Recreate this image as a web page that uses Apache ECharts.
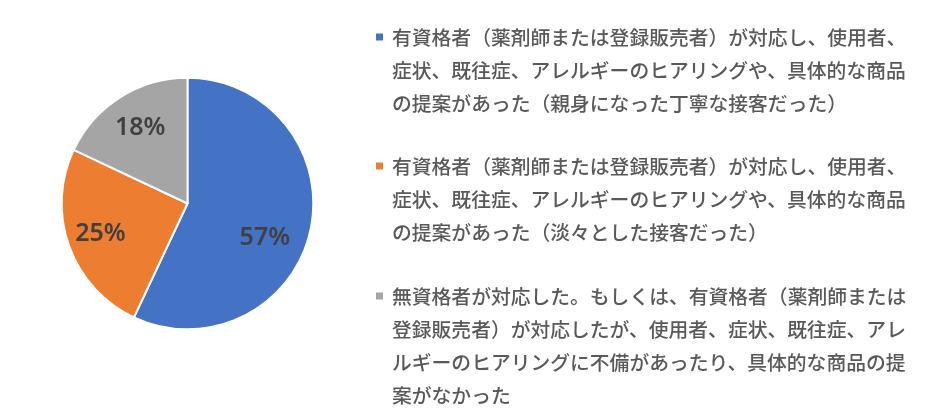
<!DOCTYPE html>
<html>
<head>
<meta charset="utf-8">
<script src="https://cdn.jsdelivr.net/npm/echarts@6/dist/echarts.min.js"></script>
<style>
    html, body { margin: 0; padding: 0; background: #fff; }
    #main { width: 940px; height: 411px; }
</style>
</head>
<body>
<div id="main"></div>
<script>
// 回答の区分（凡例テキスト）
var categories = [
    '有資格者（薬剤師または登録販売者）が対応し、使用者、症状、既往症、アレルギーのヒアリングや、具体的な商品の提案があった（親身になった丁寧な接客だった）',
    '有資格者（薬剤師または登録販売者）が対応し、使用者、症状、既往症、アレルギーのヒアリングや、具体的な商品の提案があった（淡々とした接客だった）',
    '無資格者が対応した。もしくは、有資格者（薬剤師または登録販売者）が対応したが、使用者、症状、既往症、アレルギーのヒアリングに不備があったり、具体的な商品の提案がなかった'
];
// 割合（%）
var shares = [57, 25, 18];

var colors = ['#4472C4', '#ED7D31', '#A5A5A5'];
var lineLen = 26;      // 凡例1行あたりの文字数
var lineH = 33;        // 凡例の行の高さ
var legendTops = [37, 166, 296]; // 各凡例の1行目の中心
var labelOffsets = [[13, 20], [-25, 8], [-12, -20]]; // ラベル位置の微調整

/**
 * 凡例テキストを行に分割
 */
function wrap(name) {
    return name.match(new RegExp('.{1,' + lineLen + '}', 'g')).join('\n');
}

/**
 * 凡例アイコン（1行目に合わせた四角）
 */
function iconPath(lines) {
    let h = lines * lineH;
    let y0 = lineH / 2 - 3.5;
    return 'path://M0,0M11,' + h + 'M0,' + y0 + 'h7v7h-7z';
}

var myChart = echarts.init(document.getElementById('main'), null, {renderer: 'canvas'});

let legends = [];
for (let i = 0; i < categories.length; i++) {
    let lines = Math.ceil(categories[i].length / lineLen);
    legends.push({
        orient: 'vertical',
        left: 376,
        top: legendTops[i] - lineH / 2,
        padding: 0,
        itemWidth: 11,
        itemHeight: lines * lineH,
        selectedMode: false,
        icon: iconPath(lines),
        itemStyle: {borderWidth: 0},
        data: [categories[i]],
        formatter: wrap,
        textStyle: {
            fontFamily: '"Noto Sans CJK JP", sans-serif',
            fontSize: 19.8,
            fontWeight: 500,
            lineHeight: lineH,
            color: '#595959'
        }
    });
}

let pieData = [];
for (let i = 0; i < categories.length; i++) {
    pieData.push({
        name: categories[i],
        value: shares[i],
        label: {offset: labelOffsets[i]}
    });
}

let option = {
    backgroundColor: '#fff',
    animation: false,
    color: colors,
    legend: legends,
    series: [{
        type: 'pie',
        center: [187.5, 203.5],
        radius: 125.8,
        startAngle: 90,
        clockwise: true,
        itemStyle: {borderColor: '#fff', borderWidth: 2},
        label: {
            position: 'inside',
            formatter: function (p) { return p.value + '%'; },
            fontFamily: '"Noto Sans", sans-serif',
            fontSize: 25,
            fontWeight: 600,
            color: '#404040'
        },
        labelLine: {show: false},
        emphasis: {disabled: true},
        data: pieData
    }]
};

myChart.setOption(option);
</script>
</body>
</html>
